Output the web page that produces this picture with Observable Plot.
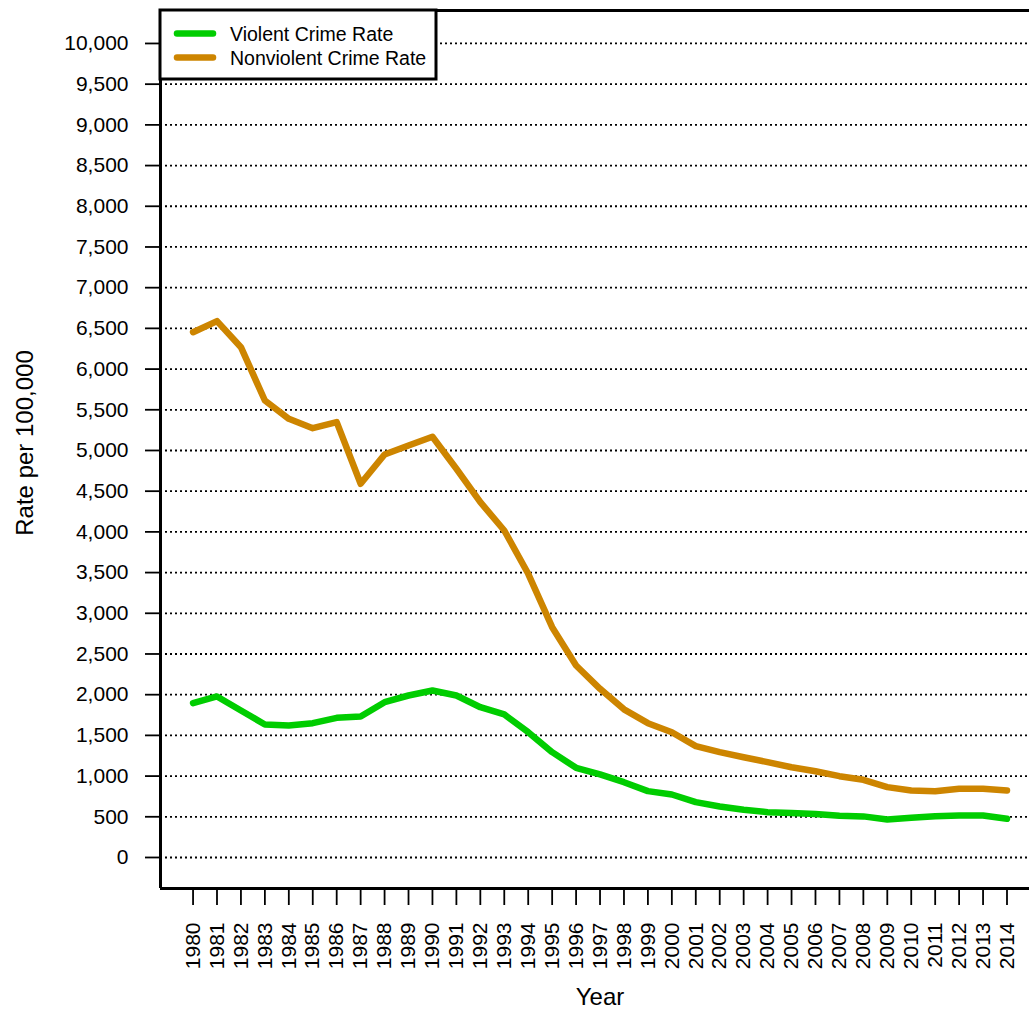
<!DOCTYPE html>
<html>
<head>
<meta charset="utf-8">
<script src="https://cdn.jsdelivr.net/npm/d3@7"></script>
<script src="https://cdn.jsdelivr.net/npm/@observablehq/plot@0.6"></script>
<style>
  html, body { margin: 0; padding: 0; background: #fff; }
  #chart { width: 1029px; height: 1011px; }
</style>
</head>
<body>
<div id="chart"></div>
<script>
const years = d3.range(1980, 2015);
const violent = [1896, 1978, 1806, 1634, 1622, 1650, 1716, 1732, 1908, 1990,
  2052, 1990, 1846, 1757, 1539, 1294, 1102, 1020, 925, 815,
  774, 680, 627, 586, 557, 545, 535, 512, 505, 467,
  488, 506, 516, 516, 475];
const nonviolent = [6453, 6589, 6269, 5614, 5389, 5274, 5348, 4591, 4951, 5061,
  5168, 4775, 4365, 4017, 3485, 2829, 2359, 2072, 1820, 1650,
  1539, 1368, 1294, 1232, 1171, 1109, 1060, 999, 954, 864,
  823, 815, 844, 844, 823];
const seriesNames = ["Violent Crime Rate", "Nonviolent Crime Rate"];
const seriesColors = ["#00CD00", "#CD8500"];
const yTicks = d3.range(0, 10001, 500);
const xDomain = [1978.64, 2014.94];
const yDomain = [-381, 10405];
const xTitle = "Year";
const yTitle = "Rate per 100,000";

const rows = [];
years.forEach((yr, i) => {
  rows.push({year: yr, value: violent[i], series: seriesNames[0]});
  rows.push({year: yr, value: nonviolent[i], series: seriesNames[1]});
});

const W = 1029, H = 1011;
const FONT = "Liberation Sans, Arial, sans-serif";
const chart = Plot.plot({
  width: W,
  height: H,
  marginLeft: 160,
  marginRight: 0,
  marginTop: 10,
  marginBottom: 123,
  style: {fontFamily: FONT, background: "#fff", color: "#000"},
  x: {domain: xDomain, type: "linear"},
  y: {domain: yDomain},
  color: {domain: seriesNames, range: seriesColors},
  marks: [
    Plot.gridY(yTicks, {stroke: "#000", strokeOpacity: 1, strokeWidth: 1.8, strokeDasharray: "2,3"}),
    Plot.axisY(yTicks, {
      tickSize: 15, tickPadding: 17, tickFormat: d3.format(","),
      fontSize: 21, stroke: "#000", strokeWidth: 1.8, label: null
    }),
    Plot.axisX(years, {
      tickSize: 17, tickPadding: 17, tickRotate: -90, tickFormat: d => String(d),
      fontSize: 21, stroke: "#000", strokeWidth: 1.8, label: null
    }),
    Plot.line(rows, {
      x: "year", y: "value", z: "series", stroke: "series",
      strokeWidth: 6.5, strokeLinejoin: "round", strokeLinecap: "round"
    }),
    Plot.ruleX([xDomain[0]], {stroke: "#000", strokeWidth: 3}),
    Plot.ruleY([yDomain[0], yDomain[1]], {stroke: "#000", strokeWidth: 3})
  ]
});
document.getElementById("chart").appendChild(chart);

const svg = d3.select(chart);
// legend
const lg = svg.append("g").attr("font-family", FONT).attr("text-anchor", "start");
lg.append("rect").attr("x", 160).attr("y", 10).attr("width", 276).attr("height", 69)
  .attr("fill", "#fff").attr("stroke", "#000").attr("stroke-width", 3);
seriesNames.forEach((name, i) => {
  const cy = 33.5 + i * 24;
  lg.append("line").attr("x1", 177).attr("x2", 213).attr("y1", cy).attr("y2", cy)
    .attr("stroke", seriesColors[i]).attr("stroke-width", 6.5).attr("stroke-linecap", "round");
  lg.append("text").attr("x", 230).attr("y", cy + 7).attr("font-size", 19.5)
    .attr("text-anchor", "start").attr("fill", "#000").text(name);
});
// axis titles
svg.append("text").attr("x", 600).attr("y", 1005).attr("text-anchor", "middle")
  .attr("font-family", FONT).attr("font-size", 24)
  .attr("fill", "#000").text(xTitle);
svg.append("text").attr("transform", "translate(33,443) rotate(-90)").attr("text-anchor", "middle")
  .attr("font-family", FONT).attr("font-size", 24)
  .attr("fill", "#000").text(yTitle);
</script>
</body>
</html>
